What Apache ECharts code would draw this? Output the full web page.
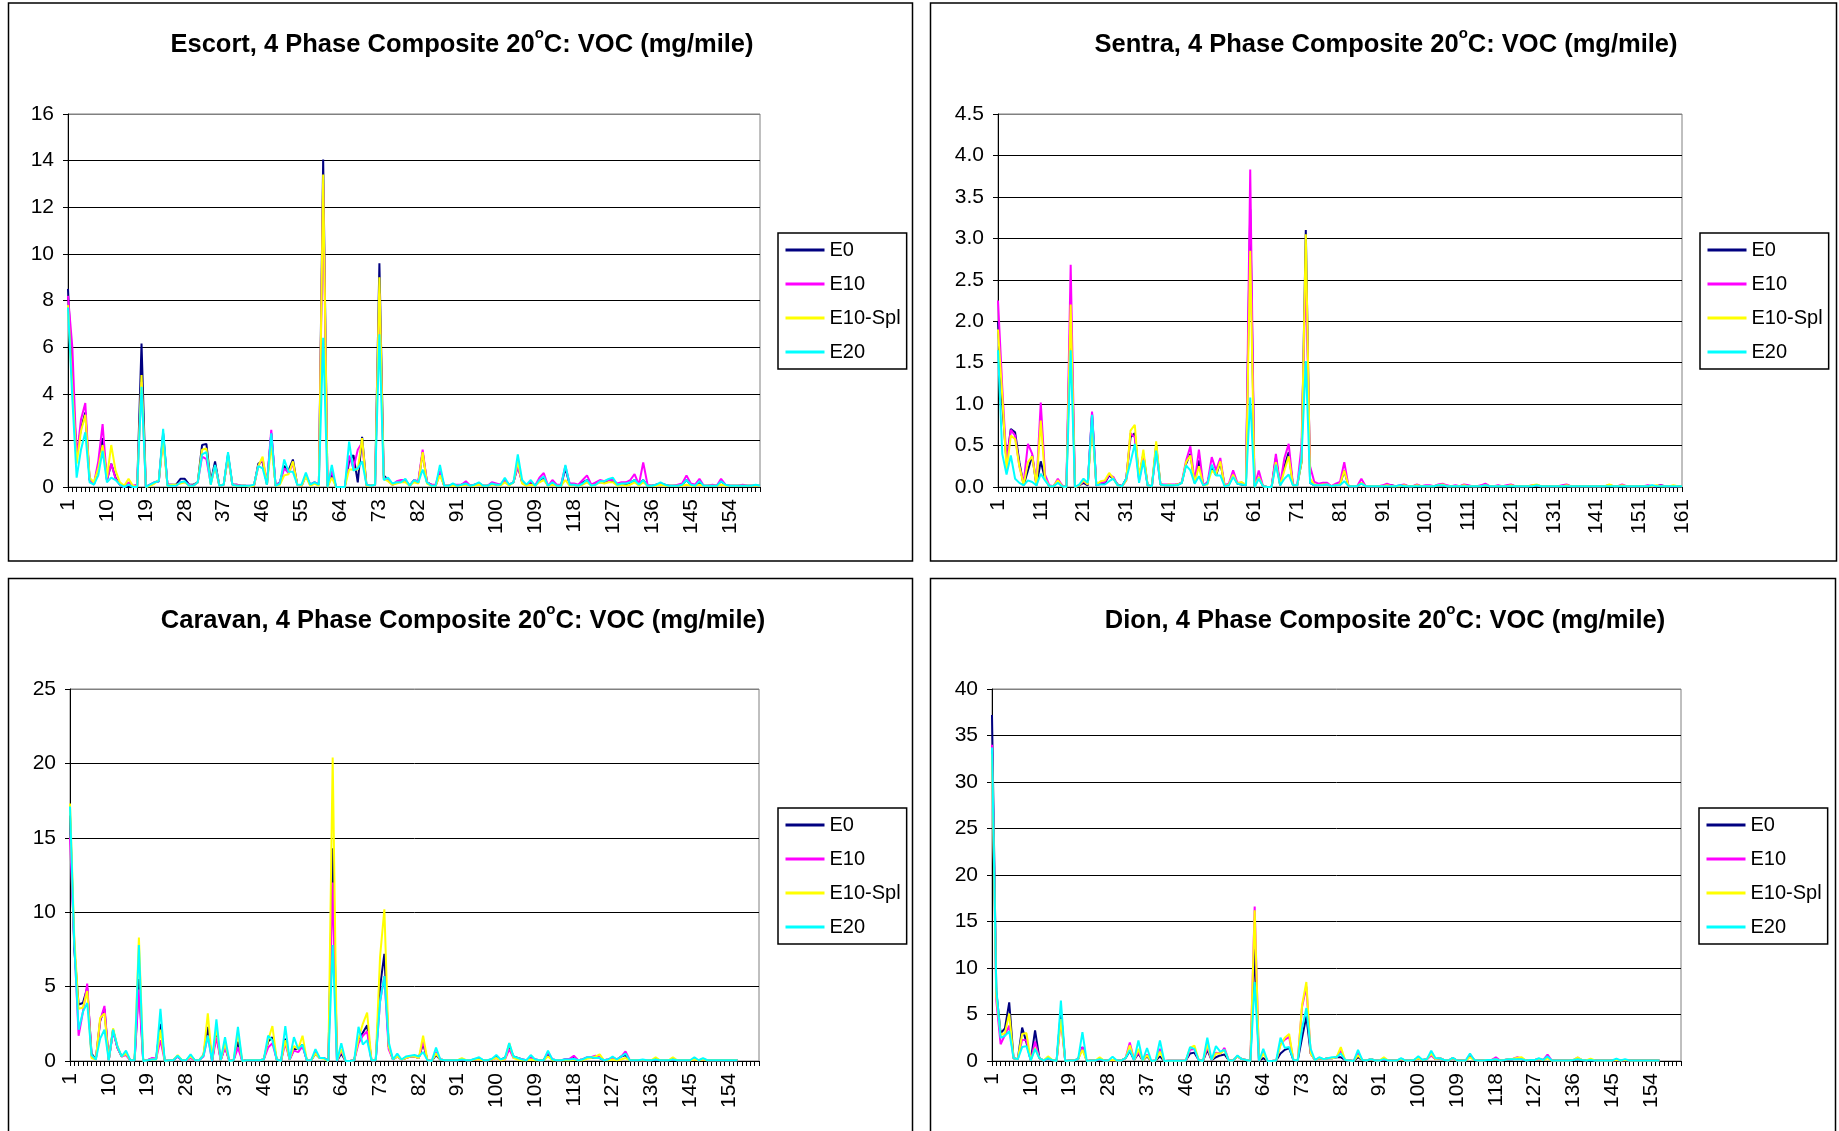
<!DOCTYPE html>
<html><head><meta charset="utf-8">
<script src="https://cdn.jsdelivr.net/npm/echarts/dist/echarts.min.js"></script>
<style>html,body{margin:0;padding:0;background:#fff;}#chart{width:1839px;height:1131px;}</style>
</head><body><div id="chart"></div>
<script>
// ---------- DATA ----------
const categories = Array.from({length: 161}, (_, i) => String(i + 1));
const seriesNames = ['E0', 'E10', 'E10-Spl', 'E20'];

const escortE0 = [
8.5,4.5,1.4,2.5,3.2,0.3,0.1,0.9,2.1,0.3,
1.0,0.4,0.1,0,0.05,0,0.05,6.15,0,0.1,
0.2,0.25,2.3,0.1,0.1,0.1,0.35,0.35,0.1,0.1,
0.2,1.8,1.85,0.2,1.1,0.05,0.1,1.4,0.1,0.1,
0.05,0.05,0,0.05,1.0,1.1,0.1,2.3,0.05,0.2,
0.9,0.7,1.18,0.1,0.05,0.5,0.1,0.2,0.1,14.05,
0,0.55,0,0,0,1.1,1.37,0.2,2.15,0.1,
0.05,0.1,9.6,0.5,0.3,0.1,0.2,0.25,0.3,0.05,
0.3,0.2,1.5,0.2,0.1,0.05,0.6,0.05,0.05,0.1,
0.05,0.1,0.2,0.05,0.1,0.15,0.05,0.05,0.15,0.1,
0.1,0.3,0.1,0.2,0.9,0.2,0.05,0.2,0.05,0.3,
0.4,0.05,0.2,0.05,0.05,0.8,0.1,0.1,0.05,0.2,
0.3,0.1,0.15,0.2,0.2,0.3,0.25,0.1,0.15,0.1,
0.2,0.3,0.1,0.3,0.05,0.05,0.1,0.15,0.1,0.05,
0.05,0.05,0.1,0.3,0.1,0.05,0.2,0.05,0.05,0.05,
0.05,0.25,0.1,0.05,0.05,0.05,0.05,0.05,0.05,0.05,
0.05];
const escortE10 = [
8.2,6.0,1.2,2.9,3.6,0.3,0.15,1.1,2.7,0.3,
1.0,0.35,0.1,0,0.2,0.05,0.1,4.5,0,0.1,
0.2,0.25,2.2,0.1,0.1,0.05,0.2,0.2,0.1,0.05,
0.2,1.3,1.2,0.15,0.9,0.05,0.1,1.3,0.1,0.1,
0.05,0.05,0.05,0.05,0.9,1.2,0.2,2.45,0.05,0.2,
0.8,0.6,1.0,0.1,0.05,0.5,0.1,0.2,0.1,13.0,
0,0.7,0,0,0,1.35,0.8,1.6,1.9,0.05,
0.05,0.1,8.3,0.4,0.3,0.1,0.25,0.3,0.3,0.05,
0.3,0.25,1.6,0.2,0.1,0.1,0.7,0.05,0.05,0.1,
0.1,0.1,0.25,0.05,0.1,0.15,0.05,0.05,0.2,0.15,
0.1,0.3,0.1,0.2,0.9,0.2,0.05,0.25,0.05,0.4,
0.6,0.05,0.3,0.1,0.1,0.9,0.15,0.15,0.1,0.3,
0.5,0.1,0.2,0.3,0.25,0.3,0.3,0.15,0.2,0.2,
0.3,0.55,0.1,1.05,0.1,0.05,0.1,0.15,0.1,0.05,
0.05,0.1,0.15,0.5,0.15,0.1,0.35,0.05,0.05,0.1,
0.05,0.35,0.1,0.05,0.05,0.05,0.1,0.05,0.05,0.05,
0.05];
const escortE10Spl = [
7.8,4.2,1.0,2.4,3.1,0.4,0.2,0.8,1.8,0.4,
1.8,0.7,0.2,0.05,0.35,0.05,0,4.8,0,0.05,
0.15,0.3,2.0,0.05,0.1,0.1,0.15,0.2,0.05,0.05,
0.2,1.6,1.65,0.1,0.9,0.05,0.1,1.3,0.1,0.05,
0.05,0.05,0.02,0.05,0.9,1.3,0.1,1.8,0.05,0.1,
0.5,0.55,1.1,0.1,0.05,0.45,0.05,0.15,0.05,13.4,
0,0.4,0,0,0,0.75,0.75,0.75,2.1,0.05,
0.05,0.1,9.0,0.35,0.25,0.1,0.15,0.2,0.2,0.05,
0.2,0.15,1.5,0.15,0.05,0.05,0.5,0.05,0.05,0.05,
0.05,0.05,0.1,0.05,0.05,0.1,0.05,0.05,0.1,0.1,
0.05,0.2,0.05,0.2,1.1,0.15,0.05,0.1,0.05,0.2,
0.3,0.05,0.1,0.05,0.05,0.3,0.05,0.1,0.05,0.1,
0.2,0.05,0.1,0.2,0.15,0.2,0.2,0.05,0.1,0.05,
0.1,0.2,0.05,0.2,0.05,0.05,0.05,0.1,0.05,0.05,
0.05,0.05,0.05,0.1,0.05,0.05,0.1,0.05,0.05,0.05,
0.05,0.1,0.05,0.05,0.05,0.05,0.05,0.05,0.05,0.05,
0.05];
const escortE20 = [
7.7,3.8,0.4,1.6,2.35,0.2,0.1,0.5,1.55,0.2,
0.4,0.3,0.1,0,0.1,0,0,4.3,0,0.1,
0.2,0.25,2.5,0.05,0.05,0.05,0.2,0.25,0.05,0.05,
0.2,1.4,1.5,0.1,0.95,0.05,0.1,1.5,0.1,0.05,
0.05,0.05,0.05,0.1,0.9,0.8,0.1,2.3,0.05,0.15,
1.18,0.65,0.65,0.1,0.1,0.62,0.1,0.2,0.1,6.4,
0,0.95,0,0,0,1.95,0.7,0.8,1.1,0.1,
0.05,0.1,6.55,0.3,0.4,0.15,0.2,0.2,0.35,0.05,
0.3,0.2,0.75,0.2,0.05,0.05,0.95,0.05,0.05,0.15,
0.05,0.1,0.15,0.05,0.1,0.2,0.05,0.05,0.15,0.1,
0.1,0.4,0.1,0.2,1.4,0.3,0.1,0.3,0.05,0.3,
0.45,0.05,0.2,0.05,0.05,0.95,0.1,0.1,0.05,0.15,
0.3,0.05,0.1,0.25,0.25,0.35,0.4,0.1,0.15,0.15,
0.2,0.3,0.1,0.3,0.05,0.05,0.1,0.2,0.1,0.05,
0.05,0.05,0.1,0.3,0.1,0.05,0.25,0.05,0.05,0.05,
0.05,0.25,0.1,0.05,0.05,0.05,0.05,0.05,0.05,0.1,
0.05];

const sentraE0 = [
2.0,1.0,0.3,0.7,0.66,0.3,0.02,0.2,0.38,0.02,
0.31,0.1,0.01,0.01,0.07,0.01,0,2.2,0,0.02,
0.05,0.02,0.88,0.02,0.04,0.05,0.14,0.1,0.03,0.01,
0.1,0.6,0.65,0.1,0.4,0.02,0.01,0.5,0.03,0.02,
0.02,0.02,0.03,0.05,0.28,0.4,0.05,0.32,0.02,0.05,
0.25,0.14,0.3,0.02,0.03,0.15,0.04,0.03,0.02,3.35,
0,0.12,0.01,0,0,0.35,0.02,0.25,0.42,0.02,
0.02,0.3,3.1,0.05,0.02,0.02,0.03,0.03,0.01,0.02,
0.03,0.2,0.01,0.01,0.01,0.05,0.01,0.01,0.01,0.01,
0.01,0.02,0.02,0.01,0.01,0.02,0.01,0.01,0.02,0.01,
0.01,0.01,0.01,0.02,0.02,0.01,0.01,0.01,0.01,0.02,
0.01,0.01,0.01,0.01,0.02,0.01,0.01,0.01,0.01,0.01,
0.02,0.01,0.01,0.01,0.01,0.01,0.02,0.01,0.01,0.01,
0.01,0.01,0.01,0.02,0.01,0.01,0.01,0.01,0.01,0.01,
0.01,0.01,0.01,0.02,0.01,0.01,0.01,0.01,0.01,0.01,
0.01,0.01,0.01,0.01,0.01,0.02,0.01,0.01,0.01,0.01,
0.01];
const sentraE10 = [
2.25,1.2,0.3,0.69,0.62,0.25,0.05,0.52,0.4,0.03,
1.02,0.15,0.02,0.01,0.1,0.02,0,2.68,0,0.02,
0.07,0.03,0.91,0.02,0.05,0.06,0.15,0.12,0.02,0.01,
0.08,0.65,0.6,0.08,0.35,0.02,0.01,0.45,0.03,0.03,
0.03,0.03,0.03,0.06,0.32,0.49,0.06,0.45,0.03,0.05,
0.36,0.2,0.35,0.02,0.04,0.2,0.05,0.05,0.03,3.83,
0,0.2,0.01,0,0,0.4,0.03,0.35,0.52,0.03,
0.02,0.5,2.6,0.25,0.06,0.04,0.05,0.05,0.01,0.04,
0.06,0.3,0.01,0.01,0.01,0.1,0.01,0.01,0.01,0.01,
0.02,0.04,0.02,0.01,0.02,0.03,0.01,0.01,0.03,0.01,
0.02,0.02,0.01,0.03,0.04,0.02,0.01,0.02,0.01,0.03,
0.02,0.01,0.01,0.02,0.04,0.01,0.01,0.02,0.01,0.02,
0.03,0.01,0.01,0.01,0.01,0.02,0.02,0.01,0.01,0.01,
0.01,0.01,0.02,0.03,0.01,0.01,0.01,0.01,0.01,0.01,
0.01,0.01,0.01,0.02,0.01,0.01,0.03,0.01,0.01,0.01,
0.01,0.01,0.02,0.01,0.01,0.02,0.01,0.01,0.01,0.01,
0.01];
const sentraE10Spl = [
1.9,1.1,0.2,0.62,0.58,0.25,0.02,0.3,0.37,0.02,
0.8,0.1,0.01,0.01,0.08,0.01,0,2.2,0,0.02,
0.08,0.03,0.75,0.03,0.07,0.08,0.17,0.1,0.02,0.01,
0.08,0.68,0.75,0.1,0.45,0.02,0.01,0.55,0.03,0.02,
0.03,0.02,0.03,0.05,0.3,0.38,0.05,0.25,0.02,0.03,
0.2,0.15,0.31,0.01,0.03,0.15,0.04,0.06,0.02,2.85,
0,0.12,0.01,0,0,0.3,0.02,0.2,0.37,0.02,
0.02,0.3,3.05,0.1,0.03,0.02,0.03,0.03,0.01,0.02,
0.03,0.2,0.01,0.01,0.01,0.05,0.01,0.01,0.01,0.01,
0.01,0.02,0.01,0.01,0.01,0.02,0.01,0.01,0.02,0.01,
0.01,0.01,0.01,0.02,0.03,0.01,0.01,0.01,0.01,0.02,
0.01,0.01,0.01,0.01,0.02,0.01,0.01,0.01,0.01,0.01,
0.02,0.01,0.01,0.01,0.01,0.02,0.03,0.01,0.01,0.01,
0.01,0.01,0.01,0.02,0.01,0.01,0.01,0.01,0.01,0.01,
0.01,0.01,0.01,0.03,0.01,0.01,0.02,0.01,0.01,0.01,
0.01,0.01,0.01,0.01,0.02,0.01,0.01,0.01,0.02,0.01,
0.01];
const sentraE20 = [
1.65,0.4,0.15,0.38,0.1,0.05,0.02,0.08,0.06,0.02,
0.16,0.08,0.01,0.01,0.05,0.01,0,1.65,0,0.03,
0.1,0.05,0.87,0.02,0.03,0.03,0.07,0.1,0.02,0.01,
0.1,0.3,0.52,0.05,0.32,0.02,0.01,0.44,0.03,0.02,
0.02,0.02,0.02,0.05,0.26,0.2,0.04,0.13,0.02,0.04,
0.27,0.14,0.14,0.01,0.02,0.12,0.04,0.03,0.02,1.08,
0,0.1,0.01,0,0,0.27,0.02,0.1,0.15,0.02,
0.02,0.35,1.52,0.05,0.02,0.02,0.02,0.03,0.01,0.02,
0.02,0.07,0.01,0.01,0.01,0.04,0.01,0.01,0.01,0.01,
0.01,0.01,0.01,0.01,0.02,0.01,0.01,0.01,0.01,0.01,
0.01,0.01,0.01,0.02,0.02,0.01,0.01,0.01,0.01,0.01,
0.01,0.01,0.01,0.01,0.02,0.01,0.01,0.01,0.01,0.01,
0.01,0.01,0.01,0.01,0.01,0.01,0.02,0.01,0.01,0.01,
0.01,0.01,0.01,0.01,0.01,0.01,0.01,0.01,0.01,0.01,
0.01,0.01,0.01,0.01,0.01,0.01,0.01,0.01,0.01,0.01,
0.01,0.01,0.01,0.02,0.01,0.01,0.01,0.01,0.01,0.01,
0.01];

const caravanE0 = [
16.5,7.5,3.8,3.9,4.9,0.5,0.1,2.7,3.5,0.05,
2.1,0.9,0.3,0.5,0.05,0.05,5.5,0,0.05,0.15,
0.15,2.5,0,0.05,0.05,0.3,0.05,0.05,0.3,0.05,
0.05,0.4,2.3,0,2.0,0.05,1.0,0,0.05,1.3,
0,0.05,0.05,0.05,0.05,0.1,1.3,1.6,0.1,0,
1.5,0.1,0.8,0.8,1.1,0.05,0.05,0.5,0.2,0.2,
0,14.3,0,0.5,0,0,0.05,1.5,1.9,2.4,
0.05,0.05,5.0,7.2,1.0,0.1,0.3,0.1,0.2,0.3,
0.3,0.2,1.2,0.05,0,0.4,0.1,0.05,0.05,0.05,
0.05,0.1,0.05,0.05,0.1,0.15,0.05,0.05,0.1,0.3,
0.1,0.2,0.9,0.3,0.2,0.1,0.05,0.2,0.1,0.05,
0.05,0.5,0.1,0.05,0.05,0.1,0.1,0.2,0.05,0.1,
0.2,0.2,0.25,0.2,0.05,0.1,0.2,0.1,0.3,0.4,
0.05,0.05,0.05,0.05,0.05,0.05,0.1,0.05,0.05,0.05,
0.1,0.05,0.05,0.05,0.05,0.1,0.05,0.1,0.05,0.05,
0.05,0.05,0.05,0.05,0.05,0.05];
const caravanE10 = [
15.0,8.0,1.7,3.3,5.2,0.3,0.1,2.7,3.7,0.05,
2.0,0.9,0.3,0.4,0.05,0.05,4.8,0,0.05,0.2,
0.15,1.4,0,0.05,0.05,0.3,0.05,0.05,0.2,0.05,
0.05,0.3,1.7,0,1.6,0.05,0.9,0,0.05,0.9,
0,0.05,0.05,0.05,0.05,0.1,0.9,1.2,0.1,0,
1.2,0.1,0.7,0.6,1.0,0.05,0.05,0.6,0.2,0.2,
0,12.0,0,0.7,0,0,0.05,1.2,1.7,2.0,
0.05,0.05,4.0,5.7,0.8,0.1,0.3,0.1,0.2,0.3,
0.3,0.2,1.3,0.05,0,0.6,0.1,0.05,0.05,0.05,
0.05,0.1,0.05,0.05,0.1,0.1,0.05,0.05,0.1,0.2,
0.05,0.1,0.8,0.2,0.2,0.1,0.05,0.2,0.1,0.05,
0.05,0.6,0.1,0.05,0.05,0.1,0.15,0.35,0.05,0.1,
0.25,0.25,0.35,0.25,0.05,0.1,0.2,0.1,0.3,0.65,
0.05,0.05,0.05,0.05,0.05,0.05,0.1,0.05,0.05,0.05,
0.1,0.05,0.05,0.05,0.05,0.1,0.05,0.1,0.05,0.05,
0.05,0.05,0.05,0.05,0.05,0.05];
const caravanE10Spl = [
17.3,8.3,3.5,3.6,4.7,0.2,0.1,2.9,3.2,0.05,
2.2,1.0,0.3,0.5,0.05,0.05,8.3,0,0.05,0.1,
0.1,2.1,0,0.05,0.05,0.4,0.05,0.05,0.3,0.05,
0.05,0.4,3.2,0,2.3,0.05,1.2,0,0.05,1.9,
0,0.05,0.05,0.05,0.05,0.1,1.4,2.35,0.1,0,
1.4,0.1,1.0,0.8,1.7,0.05,0.05,0.5,0.2,0.15,
0,20.4,0,0.8,0,0,0.05,1.5,2.5,3.25,
0.05,0.05,7.0,10.2,1.0,0.1,0.3,0.1,0.2,0.3,
0.3,0.2,1.7,0.05,0,0.5,0.1,0.05,0.05,0.05,
0.05,0.2,0.05,0.05,0.1,0.1,0.05,0.05,0.1,0.2,
0.05,0.1,1.2,0.2,0.1,0.05,0.05,0.1,0.05,0.05,
0.05,0.3,0.05,0.05,0.05,0.05,0.05,0.1,0.05,0.05,
0.15,0.2,0.3,0.45,0.05,0.05,0.1,0.05,0.1,0.2,
0.05,0.05,0.05,0.05,0.05,0.05,0.25,0.05,0.05,0.05,
0.25,0.05,0.05,0.05,0.05,0.1,0.05,0.1,0.05,0.05,
0.05,0.05,0.05,0.05,0.05,0.05];
const caravanE20 = [
17.1,7.8,2.1,3.3,3.9,0.4,0.1,1.5,2.1,0.05,
2.1,1.0,0.3,0.7,0.05,0.05,7.8,0,0.05,0.1,
0.1,3.5,0,0.05,0.05,0.35,0.05,0.05,0.45,0.05,
0.05,0.35,1.7,0,2.8,0.05,1.6,0,0.05,2.3,
0,0.05,0.05,0.05,0.05,0.1,1.7,1.4,0.1,0,
2.35,0.1,1.6,0.8,1.1,0.05,0.05,0.8,0.2,0.2,
0,7.8,0,1.2,0,0,0.05,2.3,1.1,1.4,
0.05,0.05,4.0,5.7,1.3,0.1,0.5,0.1,0.3,0.35,
0.4,0.3,0.6,0.05,0,0.9,0.1,0.05,0.05,0.05,
0.05,0.1,0.05,0.05,0.15,0.25,0.05,0.05,0.15,0.4,
0.1,0.2,1.2,0.3,0.2,0.1,0.05,0.4,0.1,0.05,
0.05,0.7,0.1,0.05,0.05,0.1,0.1,0.15,0.05,0.1,
0.25,0.25,0.2,0.2,0.05,0.1,0.3,0.1,0.3,0.5,
0.05,0.05,0.05,0.1,0.05,0.05,0.1,0.05,0.05,0.05,
0.1,0.05,0.05,0.05,0.05,0.25,0.05,0.2,0.05,0.05,
0.05,0.05,0.05,0.05,0.05,0.05];

const dionE0 = [
37.2,7.5,3.0,3.5,6.3,0.3,0.2,3.6,2.0,0.05,
3.3,0.3,0.05,0.3,0.1,0,5.3,0,0.05,0.05,
0.2,1.5,0,0.05,0.05,0.2,0.05,0.05,0.1,0.05,
0.05,0.3,1.1,0.1,0.8,0.05,0.5,0,0.05,0.5,
0,0.03,0.03,0.03,0.03,0.05,0.8,0.9,0.1,0,
1.2,0.1,0.4,0.6,0.7,0.05,0.05,0.5,0.2,0.1,
0,12.0,0,0.3,0,0,0.05,0.8,1.2,1.4,
0.1,0.05,2.5,4.8,0.8,0.1,0.3,0.2,0.3,0.3,
0.4,0.4,0.1,0.05,0,0.4,0.1,0.05,0.2,0.05,
0.05,0.2,0.05,0.05,0.05,0.2,0.05,0.05,0.1,0.3,
0.1,0.2,0.7,0.2,0.3,0.1,0.05,0.3,0.05,0.05,
0.05,0.5,0.1,0.05,0.05,0.1,0.1,0.2,0.05,0.1,
0.15,0.2,0.3,0.2,0.05,0.1,0.1,0.2,0.1,0.4,
0.05,0.05,0.05,0.05,0.05,0.1,0.2,0.1,0.05,0.1,
0.05,0.05,0.05,0.05,0.05,0.1,0.05,0.1,0.05,0.05,
0.05,0.05,0.05,0.05,0.05,0.05];
const dionE10 = [
34.0,6.5,1.8,2.8,3.8,0.3,0.2,2.3,2.2,0.05,
2.1,0.3,0.05,0.3,0.1,0,4.5,0,0.05,0.05,
0.2,1.5,0,0.05,0.05,0.2,0.05,0.05,0.1,0.05,
0.05,0.3,2.0,0.1,1.0,0.05,0.7,0,0.05,1.3,
0,0.03,0.03,0.03,0.03,0.05,1.2,1.3,0.1,0,
1.5,0.1,0.9,0.8,1.4,0.05,0.05,0.5,0.2,0.1,
0,16.6,0,0.9,0,0,0.05,1.8,2.3,2.6,
0.1,0.05,5.8,8.0,0.8,0.1,0.3,0.2,0.3,0.3,
0.4,1.1,0.1,0.05,0,0.9,0.1,0.05,0.2,0.05,
0.05,0.2,0.05,0.05,0.05,0.2,0.05,0.05,0.1,0.3,
0.1,0.2,0.6,0.2,0.3,0.1,0.05,0.3,0.05,0.05,
0.05,0.7,0.1,0.05,0.05,0.1,0.1,0.4,0.05,0.1,
0.2,0.25,0.4,0.25,0.05,0.1,0.1,0.2,0.1,0.7,
0.05,0.05,0.05,0.05,0.05,0.1,0.35,0.1,0.05,0.15,
0.05,0.05,0.05,0.05,0.05,0.1,0.05,0.1,0.05,0.05,
0.05,0.05,0.05,0.05,0.05,0.05];
const dionE10Spl = [
33.0,7.0,2.8,3.0,5.1,0.3,0.2,2.9,3.0,0.05,
1.4,0.3,0.05,0.5,0.1,0,4.5,0,0.05,0.05,
0.2,1.2,0,0.05,0.05,0.4,0.05,0.05,0.1,0.05,
0.05,0.3,1.7,0.1,1.3,0.05,0.6,0,0.05,1.0,
0,0.03,0.03,0.03,0.03,0.05,1.4,1.65,0.1,0,
1.8,0.1,0.8,0.8,1.2,0.05,0.05,0.5,0.2,0.1,
0,16.2,0,0.8,0,0,0.05,1.7,2.5,2.9,
0.1,0.05,6.0,8.5,0.8,0.1,0.3,0.2,0.3,0.3,
0.4,1.5,0.1,0.05,0,0.6,0.1,0.05,0.2,0.05,
0.05,0.4,0.05,0.05,0.05,0.2,0.05,0.05,0.1,0.3,
0.1,0.2,0.8,0.2,0.3,0.1,0.05,0.3,0.05,0.05,
0.05,0.4,0.1,0.05,0.05,0.1,0.1,0.2,0.05,0.1,
0.2,0.25,0.35,0.4,0.05,0.1,0.1,0.2,0.1,0.3,
0.05,0.05,0.05,0.05,0.05,0.1,0.4,0.1,0.05,0.25,
0.05,0.05,0.05,0.05,0.05,0.1,0.05,0.1,0.05,0.05,
0.05,0.05,0.05,0.05,0.05,0.05];
const dionE20 = [
33.7,7.8,2.5,2.7,3.2,0.3,0.2,1.5,1.6,0.05,
1.3,0.3,0.05,0.3,0.1,0,6.5,0,0.05,0.05,
0.2,3.1,0,0.05,0.05,0.2,0.05,0.05,0.45,0.05,
0.05,0.3,1.2,0.1,2.2,0.05,1.4,0,0.05,2.2,
0,0.03,0.03,0.03,0.03,0.05,1.5,1.3,0.1,0,
2.5,0.1,1.6,1.0,1.2,0.05,0.05,0.6,0.2,0.1,
0,8.5,0,1.3,0,0,0.05,2.5,1.4,1.5,
0.1,0.05,3.5,5.7,1.3,0.1,0.4,0.2,0.3,0.4,
0.4,0.8,0.1,0.05,0,1.2,0.1,0.05,0.2,0.05,
0.05,0.2,0.05,0.05,0.05,0.3,0.05,0.05,0.1,0.5,
0.1,0.2,1.1,0.3,0.3,0.1,0.05,0.35,0.05,0.05,
0.05,0.8,0.1,0.05,0.05,0.1,0.1,0.2,0.05,0.1,
0.2,0.2,0.2,0.2,0.05,0.1,0.1,0.3,0.1,0.5,
0.05,0.05,0.05,0.05,0.05,0.1,0.2,0.1,0.05,0.1,
0.05,0.05,0.05,0.05,0.05,0.25,0.05,0.2,0.05,0.05,
0.05,0.05,0.05,0.05,0.05,0.05];

// ---------- LAYOUT / STYLE ----------
const FONT = "'Liberation Sans', Arial, Helvetica, sans-serif";
const COLORS = ['#000080', '#FF00FF', '#FFFF00', '#00FFFF'];

const panels = [
  { name: 'Escort', series: [escortE0, escortE10, escortE10Spl, escortE20],
    grid: {left: 68, top: 114, width: 692, height: 373}, yMax: 16, yInt: 2, dec: 0, labelInt: 8,
    legend: {left: 778, top: 233}, titleX: 462, titleY: 45, box: [8.5, 3, 904, 558] },
  { name: 'Sentra', series: [sentraE0, sentraE10, sentraE10Spl, sentraE20],
    grid: {left: 998, top: 114, width: 684, height: 373}, yMax: 4.5, yInt: 0.5, dec: 1, labelInt: 9,
    legend: {left: 1700, top: 233}, titleX: 1386, titleY: 45, box: [930.5, 3, 906, 558] },
  { name: 'Caravan', series: [caravanE0, caravanE10, caravanE10Spl, caravanE20],
    grid: {left: 70, top: 689, width: 689, height: 372}, yMax: 25, yInt: 5, dec: 0, labelInt: 8,
    legend: {left: 778, top: 808}, titleX: 463, titleY: 621, box: [8.5, 578.5, 904, 620] },
  { name: 'Dion', series: [dionE0, dionE10, dionE10Spl, dionE20],
    grid: {left: 992, top: 689, width: 689, height: 372}, yMax: 40, yInt: 5, dec: 0, labelInt: 8,
    legend: {left: 1699, top: 808}, titleX: 1385, titleY: 621, box: [930.5, 578.5, 905, 620] }
];

const option = {
  backgroundColor: '#ffffff',
  animation: false,
  grid: [], xAxis: [], yAxis: [], series: [], legend: [], graphic: []
};

panels.forEach((p, gi) => {
  option.grid.push(Object.assign({ show: true, borderColor: '#808080', borderWidth: 1,
    backgroundColor: 'rgba(0,0,0,0)', containLabel: false }, p.grid));
  option.xAxis.push({
    type: 'category', gridIndex: gi, data: categories, boundaryGap: false,
    axisLine: { show: true, onZero: false, lineStyle: { color: '#000', width: 1 } },
    axisTick: { show: true, interval: 0, length: 5, lineStyle: { color: '#000', width: 1 } },
    axisLabel: { show: true, interval: p.labelInt, rotate: 90, margin: 12, color: '#000',
      fontSize: 21, fontFamily: FONT, hideOverlap: false },
    splitLine: { show: false }
  });
  const nLines = Math.round(p.yMax / p.yInt) + 1;
  const gridColors = [];
  for (let k = 0; k < nLines; k++) gridColors.push(k === nLines - 1 ? '#808080' : '#000000');
  option.yAxis.push({
    type: 'value', gridIndex: gi, min: 0, max: p.yMax, interval: p.yInt,
    axisLine: { show: true, lineStyle: { color: '#000', width: 1 } },
    axisTick: { show: true, length: 5, lineStyle: { color: '#000', width: 1 } },
    axisLabel: { color: '#000', fontSize: 21, fontFamily: FONT, margin: 14,
      formatter: v => v.toFixed(p.dec) },
    splitLine: { show: true, lineStyle: { color: gridColors, width: 1 } }
  });
  p.series.forEach((d, si) => {
    option.series.push({
      type: 'line', name: seriesNames[si], xAxisIndex: gi, yAxisIndex: gi, data: d,
      symbol: 'none', showSymbol: false, smooth: false, silent: true,
      color: COLORS[si],
      lineStyle: { color: COLORS[si], width: 2 },
      itemStyle: { color: COLORS[si] },
      z: 2 + si
    });
  });
  option.legend.push({
    show: true, orient: 'vertical', left: p.legend.left, top: p.legend.top,
    data: seriesNames, selectedMode: false, icon: 'rect',
    backgroundColor: '#fff', borderColor: '#000', borderWidth: 1.5, borderRadius: 0,
    padding: [7, 6, 7, 7.5], itemGap: 14, itemWidth: 39, itemHeight: 3,
    textStyle: { color: '#000', fontSize: 20, fontFamily: FONT }
  });
  option.graphic.push({
    type: 'rect', silent: true, z: 0,
    shape: { x: p.box[0], y: p.box[1], width: p.box[2], height: p.box[3] },
    style: { fill: 'none', stroke: '#000', lineWidth: 1.5 }
  });
  option.graphic.push({
    type: 'text', silent: true, z: 10, x: p.titleX, y: p.titleY,
    style: {
      text: p.name + ', 4 Phase Composite 20{s|o}C: VOC (mg/mile)',
      fill: '#000', fontSize: 25.5, fontWeight: 'bold', fontFamily: FONT,
      align: 'center', verticalAlign: 'middle', lineHeight: 38,
      rich: { s: { fontSize: 15, fontWeight: 'bold', fontFamily: FONT, fill: '#000',
                   verticalAlign: 'top' } }
    }
  });
});

const chart = echarts.init(document.getElementById('chart'), null, { renderer: 'canvas', width: 1839, height: 1131 });
chart.setOption(option);
</script>
</body></html>
